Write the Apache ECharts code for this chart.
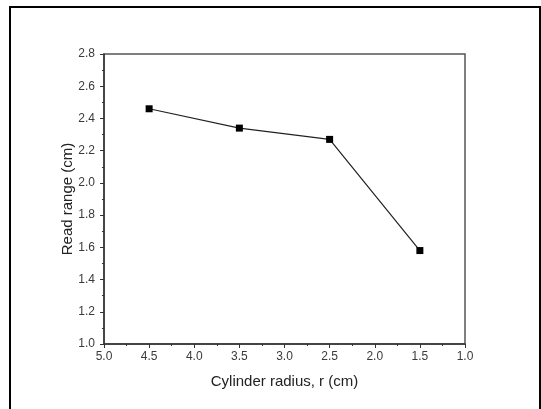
<!DOCTYPE html>
<html>
<head>
<meta charset="utf-8">
<script src="https://cdn.jsdelivr.net/npm/echarts@6/dist/echarts.min.js"></script>
<style>
  html, body { margin: 0; padding: 0; background: #fff; }
  #chart { width: 541px; height: 409px; }
</style>
</head>
<body>
<div id="chart"></div>
<script>
// 讀自圖片的數據
var radius = [4.5, 3.5, 2.5, 1.5];
var readRange = [2.46, 2.34, 2.27, 1.58];
var xTicks = [1.0, 5.0, 0.5];   // min, max, interval
var yTicks = [1.0, 2.8, 0.2];

var points = radius.map(function(r, i) { return [r, readRange[i]]; });

var chart = echarts.init(document.getElementById('chart'));

var labelFont = { color: '#3a3a3a', fontSize: 12, fontFamily: 'Liberation Sans, Arial, sans-serif' };
var nameFont = { color: '#222', fontSize: 15, fontFamily: 'Liberation Sans, Arial, sans-serif' };

var option = {
    animation: false,
    graphic: [{
        type: 'rect',
        shape: { x: 10, y: 7, width: 530, height: 420 },
        style: { fill: 'none', stroke: '#000', lineWidth: 2 },
        silent: true
    }],
    grid: {
        left: 104, top: 54, width: 361, height: 290,
        show: true, borderColor: '#555', borderWidth: 1.5, backgroundColor: 'transparent'
    },
    xAxis: {
        type: 'value',
        inverse: true,
        min: xTicks[0], max: xTicks[1], interval: xTicks[2],
        name: 'Cylinder radius, r (cm)',
        nameLocation: 'middle',
        nameGap: 30,
        nameMoveOverlap: false,
        nameTextStyle: nameFont,
        axisLine: { lineStyle: { color: '#333', width: 1.5 } },
        axisTick: { show: true, length: 4, lineStyle: { color: '#333' } },
        minorTick: { show: true, splitNumber: 2, length: 2, lineStyle: { color: '#333' } },
        axisLabel: Object.assign({ margin: 7, formatter: function(v) { return v.toFixed(1); } }, labelFont),
        splitLine: { show: false }
    },
    yAxis: {
        type: 'value',
        min: yTicks[0], max: yTicks[1], interval: yTicks[2],
        name: 'Read range (cm)',
        nameLocation: 'middle',
        nameRotate: 90,
        nameGap: 29,
        nameMoveOverlap: false,
        nameTextStyle: nameFont,
        axisLine: { show: true, lineStyle: { color: '#333', width: 1.5 } },
        axisTick: { show: true, length: 4, lineStyle: { color: '#333' } },
        minorTick: { show: true, splitNumber: 2, length: 2, lineStyle: { color: '#333' } },
        axisLabel: Object.assign({ margin: 9, formatter: function(v) { return v.toFixed(1); } }, labelFont),
        splitLine: { show: false }
    },
    series: [{
        type: 'line',
        data: points,
        symbol: 'rect',
        symbolSize: 7,
        itemStyle: { color: '#000' },
        lineStyle: { color: '#222', width: 1.2 }
    }]
};

chart.setOption(option);
</script>
</body>
</html>
